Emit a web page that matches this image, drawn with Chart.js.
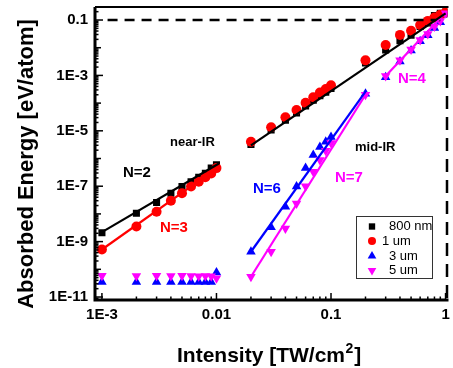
<!DOCTYPE html>
<html>
<head>
<meta charset="utf-8">
<script src="https://cdn.jsdelivr.net/npm/chart.js@4/dist/chart.umd.min.js"></script>
<style>
  html, body { margin: 0; padding: 0; background: #fff; }
  #wrap { width: 453px; height: 368px; }
</style>
</head>
<body>
<div id="wrap"><canvas id="energyChart"></canvas></div>
<script>
// intensities [TW/cm2]
const nearIntensity = [0.001, 0.002, 0.003, 0.004, 0.005, 0.006, 0.007, 0.008, 0.009, 0.01];
const midIntensity = [0.02, 0.03, 0.04, 0.05, 0.06, 0.07, 0.08, 0.09, 0.1, 0.2, 0.3, 0.4, 0.5, 0.6, 0.7, 0.8, 0.9, 1.0];

// absorbed energy [eV/atom], near-IR range
const nm800Near = [2.1e-9, 1.05e-8, 2.6e-8, 5.6e-8, 9.8e-8, 1.45e-7, 2.1e-7, 2.9e-7, 4.5e-7, 5.9e-7];
const um1Near = [5.2e-10, 3.5e-9, 1.2e-8, 3.0e-8, 5.6e-8, 9.8e-8, 1.45e-7, 2.1e-7, 2.9e-7, 4.5e-7];
const um3Near = [3.5e-11, 3.5e-11, 3.5e-11, 3.5e-11, 3.5e-11, 3.5e-11, 3.5e-11, 3.5e-11, 3.5e-11, 7.6e-11];
const um5Near = [5.8e-11, 5.7e-11, 5.8e-11, 5.7e-11, 5.8e-11, 5.7e-11, 5.6e-11, 5.7e-11, 5.6e-11, 4.8e-11];

// absorbed energy [eV/atom], mid-IR range
const nm800Mid = [3.2e-6, 1.07e-5, 2.4e-5, 4.4e-5, 7.9e-5, 1.26e-4, 1.86e-4, 2.45e-4, 3.4e-4, 2.8e-3, 8.3e-3, 0.018, 0.028, 0.058, 0.079, 0.145, 0.174, 0.195];
const um1Mid = [4.0e-6, 1.35e-5, 3.1e-5, 5.6e-5, 1.02e-4, 1.62e-4, 2.4e-4, 3.2e-4, 4.4e-4, 3.5e-3, 0.0126, 0.029, 0.041, 0.066, 0.093, 0.123, 0.155, 0.186];
const um3Mid = [4.3e-10, 3.3e-9, 1.8e-8, 9.8e-8, 4.5e-7, 1.35e-6, 2.6e-6, 4.0e-6, 6.0e-6, 2.2e-4, 8.5e-4, 3.2e-3, 7.9e-3, 0.017, 0.028, 0.051, 0.083, 0.155];
const um5Mid = [5.4e-11, 4.3e-10, 3.0e-9, 2.4e-8, 1.0e-7, 3.3e-7, 8.9e-7, 1.9e-6, 3.6e-6, 2.0e-4, 9.5e-4, 3.5e-3, 8.7e-3, 0.019, 0.031, 0.058, 0.093, 0.174];

// power-law fit lines (end points)
const fitN2 = { x: [0.001, 0.0105], y: [2.2e-9, 6.6e-7] };
const fitN3 = { x: [0.001, 0.0105], y: [5.2e-10, 5.1e-7] };
const fit800Mid = { x: [0.02, 1.0], y: [3.0e-6, 0.174] };
const fitN6 = { x: [0.02, 0.2], y: [4.3e-10, 2.6e-4] };
const fitN7 = { x: [0.02, 0.2], y: [5.4e-11, 2.0e-4] };
const fitN4 = { x: [0.3, 1.0], y: [9.5e-4, 0.186] };
const refLevel = { x: [0.00112, 0.9], y: [0.1, 0.1] };

const xTickValues = [0.001, 0.01, 0.1, 1];
const xTickText = ['1E-3', '0.01', '0.1', '1'];
const yTickValues = [0.1, 1e-3, 1e-5, 1e-7, 1e-9, 1e-11];
const yTickText = ['0.1', '1E-3', '1E-5', '1E-7', '1E-9', '1E-11'];

const seriesNames = ['800 nm', '1 um', '3 um', '5 um'];
const seriesColors = ['#000000', '#ff0000', '#0000ff', '#ff00ff'];

const FONT = "'Liberation Sans', Arial, sans-serif";
Chart.defaults.font.family = FONT;

const pts = (xs, ys) => xs.map((x, i) => ({ x: x, y: ys[i] }));

function lineSet(fit, color, dash) {
  return {
    data: pts(fit.x, fit.y), showLine: true, borderColor: color, borderWidth: dash ? 2.5 : 2.2,
    borderDash: dash || [], pointRadius: 0, fill: false
  };
}
function pointSet(xs, ys, i, style, rot, r) {
  return {
    label: seriesNames[i], data: pts(xs, ys), showLine: false,
    pointStyle: style, rotation: rot, pointRadius: r,
    backgroundColor: seriesColors[i], borderColor: seriesColors[i], borderWidth: 0
  };
}

// axes frame, inward ticks, annotations and the legend box
const decorations = {
  id: 'decorations',
  afterDatasetsDraw(chart) {
    const { ctx, chartArea: a, scales: { x, y } } = chart;
    ctx.save();
    ctx.strokeStyle = '#000';
    ctx.lineWidth = 1.5;
    for (let e = -3; e <= 0; e++) {
      for (let m = 1; m <= 9; m++) {
        const v = m * Math.pow(10, e);
        if (v > 1.0001) break;
        const px = x.getPixelForValue(v);
        const len = m === 1 ? 7 : 3.5;
        ctx.beginPath(); ctx.moveTo(px, a.bottom); ctx.lineTo(px, a.bottom - len); ctx.stroke();
      }
    }
    for (let e = -12; e <= -1; e++) {
      for (let m = 1; m <= 9; m++) {
        const v = m * Math.pow(10, e);
        if (v < y.min || v > y.max) continue;
        const py = y.getPixelForValue(v);
        let len = 3.5;
        if (m === 1) len = (e % 2 !== 0) ? 8 : 6;
        ctx.beginPath(); ctx.moveTo(a.left, py); ctx.lineTo(a.left + len, py); ctx.stroke();
      }
    }
    // frame
    ctx.lineWidth = 3;
    ctx.beginPath();
    ctx.moveTo(a.left, a.top); ctx.lineTo(a.left, a.bottom); ctx.lineTo(a.right + 1, a.bottom);
    ctx.stroke();
    ctx.lineWidth = 2;
    ctx.beginPath(); ctx.moveTo(a.left, a.top); ctx.lineTo(a.right + 1, a.top); ctx.stroke();
    ctx.lineWidth = 2.5;
    ctx.setLineDash([13, 8]);
    ctx.beginPath(); ctx.moveTo(a.right - 0.5, a.top + 26); ctx.lineTo(a.right - 0.5, a.bottom); ctx.stroke();
    ctx.setLineDash([]);

    // annotations
    const label = (txt, color, size, px, py) => {
      ctx.font = 'bold ' + size + 'px ' + FONT;
      ctx.fillStyle = color;
      ctx.textAlign = 'left';
      ctx.textBaseline = 'middle';
      ctx.fillText(txt, px, py);
    };
    label('near-IR', '#000', 13, 170, 142);
    label('mid-IR', '#000', 13, 355, 147);
    label('N=2', '#000', 15, 123, 173);
    label('N=3', '#ff0000', 15, 160, 228);
    label('N=6', '#0000ff', 15, 253, 189);
    label('N=7', '#ff00ff', 15, 335, 178);
    label('N=4', '#ff00ff', 15, 398, 79);

    // legend box
    ctx.lineWidth = 1;
    ctx.strokeStyle = '#333';
    ctx.strokeRect(356.5, 216.5, 76, 62);
    const styles = [['rect', 0, 4.5], ['circle', 0, 4], ['triangle', 0, 5], ['triangle', 180, 5]];
    const rows = [226.5, 241, 256, 270.5];
    const textX = [389, 382, 389, 389];
    ctx.font = '13px ' + FONT;
    ctx.textBaseline = 'middle';
    for (let i = 0; i < 4; i++) {
      ctx.fillStyle = seriesColors[i];
      ctx.strokeStyle = seriesColors[i];
      Chart.helpers.drawPoint(ctx, { pointStyle: styles[i][0], rotation: styles[i][1], radius: styles[i][2], borderWidth: 0 }, 372, rows[i]);
      ctx.fillStyle = '#000';
      ctx.fillText(seriesNames[i], textX[i], rows[i]);
    }

    // axis titles
    ctx.fillStyle = '#000';
    ctx.font = 'bold 21px ' + FONT;
    ctx.textBaseline = 'alphabetic';
    const base = 'Intensity [TW/cm';
    let tx = 177;
    ctx.fillText(base, tx, 362);
    tx += ctx.measureText(base).width;
    ctx.font = 'bold 14px ' + FONT;
    ctx.fillText('2', tx + 0.5, 353);
    tx += ctx.measureText('2').width + 1.5;
    ctx.font = 'bold 21px ' + FONT;
    ctx.fillText(']', tx, 362);

    ctx.translate(27, 164);
    ctx.rotate(-Math.PI / 2);
    ctx.textAlign = 'center';
    ctx.textBaseline = 'middle';
    ctx.font = 'bold 22px ' + FONT;
    ctx.fillText('Absorbed Energy [eV/atom]', 0, 0);
    ctx.restore();
  }
};

const tickFont = { family: FONT, size: 15, weight: 'bold' };

new Chart(document.getElementById('energyChart'), {
  type: 'scatter',
  data: {
    datasets: [
      lineSet(fitN2, '#000000'),
      lineSet(fitN3, '#ff0000'),
      lineSet(fit800Mid, '#000000'),
      lineSet(fitN6, '#0000ff'),
      lineSet(fitN7, '#ff00ff'),
      lineSet(fitN4, '#ff00ff'),
      lineSet(refLevel, '#000000', [10, 7]),
      pointSet(nearIntensity, um5Near, 3, 'triangle', 180, 5.5),
      pointSet(midIntensity, um5Mid, 3, 'triangle', 180, 5.5),
      pointSet(nearIntensity, um1Near, 1, 'circle', 0, 5),
      pointSet(midIntensity, um1Mid, 1, 'circle', 0, 5),
      pointSet(nearIntensity, um3Near, 2, 'triangle', 0, 5.5),
      pointSet(midIntensity, um3Mid, 2, 'triangle', 0, 5.5),
      pointSet(nearIntensity, nm800Near, 0, 'rect', 0, 5),
      pointSet(midIntensity, nm800Mid, 0, 'rect', 0, 5)
    ]
  },
  options: {
    responsive: true,
    maintainAspectRatio: false,
    animation: false,
    devicePixelRatio: 1,
    layout: { padding: { top: 7, right: 1, left: 0, bottom: 0 } },
    plugins: { legend: { display: false }, tooltip: { enabled: false } },
    scales: {
      x: {
        type: 'logarithmic', min: 8.7e-4, max: 1.04,
        grid: { display: false, drawTicks: false },
        border: { display: false },
        ticks: {
          color: '#000', font: tickFont, padding: 6, autoSkip: false, maxRotation: 0,
          callback: (v) => { const i = xTickValues.indexOf(v); return i >= 0 ? xTickText[i] : ''; }
        },
        afterBuildTicks: (s) => { s.ticks = xTickValues.map(v => ({ value: v })); },
        afterFit: (s) => { s.height = 68; s.paddingLeft = 0; s.paddingRight = 0; }
      },
      y: {
        type: 'logarithmic', min: 7.8e-12, max: 0.295,
        grid: { display: false, drawTicks: false },
        border: { display: false },
        ticks: {
          color: '#000', font: tickFont, padding: 7, autoSkip: false,
          callback: (v) => { const i = yTickValues.indexOf(v); return i >= 0 ? yTickText[i] : ''; }
        },
        afterBuildTicks: (s) => { s.ticks = yTickValues.map(v => ({ value: v })); },
        afterFit: (s) => { s.width = 95; s.paddingTop = 0; s.paddingBottom = 0; }
      }
    }
  },
  plugins: [decorations]
});
</script>
</body>
</html>
